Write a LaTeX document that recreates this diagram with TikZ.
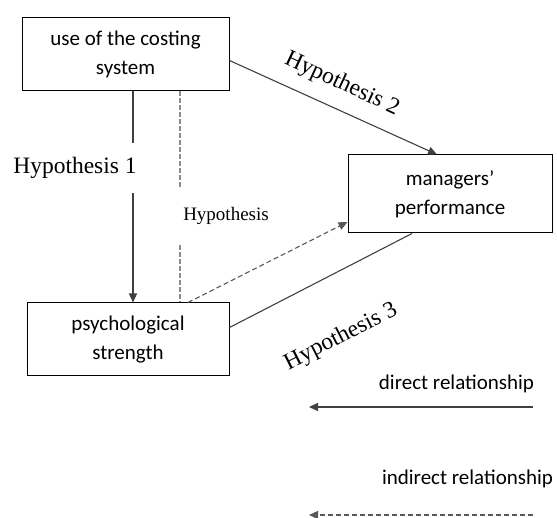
\documentclass[tikz,border=0pt]{standalone}
\usepackage{fontspec}
\setmainfont{Carlito}
\newfontfamily\timesfont{Liberation Serif}
\usetikzlibrary{arrows.meta}

\begin{document}
\begin{tikzpicture}[x=1pt,y=-1pt,
  box/.style={draw, line width=1pt, align=center, inner sep=0pt,
    font=\fontsize{21}{29}\selectfont},
  hyp/.style={font=\timesfont\fontsize{23.5}{28}\selectfont, inner sep=1pt},
  rel/.style={line width=1.1pt, draw=black!75, -{Triangle[length=9pt,width=8pt]}},
  indrel/.style={rel, draw=black!65, dash pattern=on 5pt off 3pt}]
  \useasboundingbox (0,0) rectangle (557,518);
  \node[box, minimum width=207pt, minimum height=73pt] at (125.5,54.5) (use) {use of the costing\\system};
  \node[box, minimum width=202pt, minimum height=73pt] at (128,339.5) (psy) {psychological\\strength};
  \node[box, minimum width=204pt, minimum height=78pt] at (450,194) (perf) {managers’\\performance};
  % links between the boxes
  \draw[rel] ([xshift=7.5pt]use.south) -- ([xshift=5pt]psy.north);
  \draw[line width=1.4pt, draw=black!45, dash pattern=on 4.5pt off 2.5pt] ([xshift=54.5pt]use.south) -- ([xshift=52pt]psy.north);
  \draw[rel] ([yshift=-6pt]use.east) -- ([xshift=-13pt]perf.north);
  \draw[line width=1.1pt, draw=black!75] ([yshift=12pt]psy.east) -- ([xshift=-38pt]perf.south);
  \draw[indrel] ([xshift=60pt]psy.north) -- ([yshift=-28pt]perf.west);
  \node[hyp, fill=white, minimum height=50pt] at (75,168) (h1) {Hypothesis 1};
  \node[hyp, fill=white, inner xsep=5pt, minimum height=56pt, font=\timesfont\fontsize{19}{23}\selectfont] at (226,216) (h0) {Hypothesis};
  \node[hyp, rotate=-25] at (342,84) (h2) {Hypothesis 2};
  \node[hyp, rotate=27] at (341,337) (h3) {Hypothesis 3};
  % legend
  \coordinate (d1) at (533,407); \coordinate (d0) at (309,407);
  \coordinate (i1) at (533,515); \coordinate (i0) at (309,515);
  \draw[rel] (d1) -- (d0);
  \draw[indrel] (i1) -- (i0);
  \node[font=\fontsize{21}{29}\selectfont] at (456.5,384) (direct) {direct relationship};
  \node[font=\fontsize{21}{29}\selectfont] at (467.5,479) (indirect) {indirect relationship};
\end{tikzpicture}
\end{document}
